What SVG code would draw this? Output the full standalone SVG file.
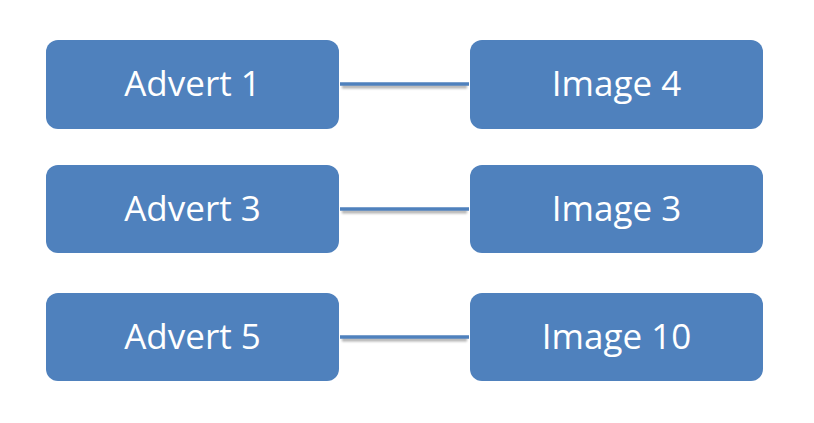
<svg xmlns="http://www.w3.org/2000/svg" width="814" height="423" viewBox="0 0 814 423">
<defs>
<style>
.box{fill:#4f81bd;}
.lbl{fill:#fff;font-family:"Open Sans","Noto Sans",sans-serif;font-size:35px;text-anchor:middle;dominant-baseline:central;}
.ln{stroke:#4f81bd;stroke-width:3.5;}
.sh{fill:#000;fill-opacity:0.3;filter:url(#blur);}
</style>
<filter id="blur" filterUnits="userSpaceOnUse" x="0" y="0" width="814" height="423"><feGaussianBlur stdDeviation="1"/></filter>
</defs>
<rect width="814" height="423" fill="#fff"/>
<g id="connectors">
<rect class="sh" x="342" y="85" width="125" height="3.5"/>
<line class="ln" x1="340" y1="84" x2="469" y2="84"/>
<rect class="sh" x="342" y="210" width="125" height="3.5"/>
<line class="ln" x1="340" y1="209" x2="469" y2="209"/>
<rect class="sh" x="342" y="338" width="125" height="3.5"/>
<line class="ln" x1="340" y1="337" x2="469" y2="337"/>
</g>
<g id="advert1"><rect class="box" x="46" y="40" width="293" height="89" rx="12"/><text class="lbl" x="192.5" y="82">Advert 1</text></g>
<g id="image4"><rect class="box" x="470" y="40" width="293" height="89" rx="12"/><text class="lbl" x="616.5" y="82">Image 4</text></g>
<g id="advert3"><rect class="box" x="46" y="165" width="293" height="88" rx="12"/><text class="lbl" x="192.5" y="207">Advert 3</text></g>
<g id="image3"><rect class="box" x="470" y="165" width="293" height="88" rx="12"/><text class="lbl" x="616.5" y="207">Image 3</text></g>
<g id="advert5"><rect class="box" x="46" y="293" width="293" height="88" rx="12"/><text class="lbl" x="192.5" y="335">Advert 5</text></g>
<g id="image10"><rect class="box" x="470" y="293" width="293" height="88" rx="12"/><text class="lbl" x="616.5" y="335">Image 10</text></g>
</svg>
